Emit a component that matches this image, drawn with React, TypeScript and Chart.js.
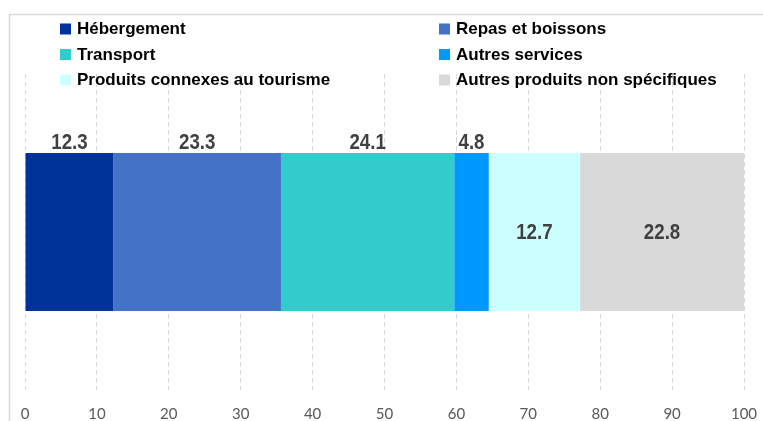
import React, { useEffect, useRef } from "react";
import { Chart, registerables } from "chart.js";

Chart.register(...registerables);

const categories = ["Dépenses"];
const seriesNames = [
  "Hébergement",
  "Repas et boissons",
  "Transport",
  "Autres services",
  "Produits connexes au tourisme",
  "Autres produits non spécifiques",
];
const seriesValues = [12.3, 23.3, 24.1, 4.8, 12.7, 22.8];
const seriesColors = ["#003399", "#4472C4", "#33CCCC", "#0099FF", "#CCFFFF", "#D9D9D9"];
const labelAbove = [true, true, true, true, false, false];
const xTicks = [0, 10, 20, 30, 40, 50, 60, 70, 80, 90, 100];

const framePlugin = {
  id: "frame",
  beforeDraw(chart: any) {
    const ctx = chart.ctx;
    ctx.save();
    ctx.strokeStyle = "#D9D9D9";
    ctx.lineWidth = 1.5;
    ctx.beginPath();
    ctx.moveTo(9.5, chart.height);
    ctx.lineTo(9.5, 14.5);
    ctx.lineTo(chart.width, 14.5);
    ctx.stroke();
    ctx.restore();
  },
};

const legendPlugin = {
  id: "customLegend",
  afterDraw(chart: any) {
    const ctx = chart.ctx;
    const colX = [60, 439];
    const rowY = [29, 54.5, 80];
    ctx.save();
    ctx.font = "bold 17px 'Liberation Sans', Arial, sans-serif";
    ctx.textBaseline = "middle";
    ctx.textAlign = "left";
    chart.data.datasets.forEach((ds: any, i: number) => {
      const x = colX[i % 2];
      const y = rowY[Math.floor(i / 2)];
      ctx.fillStyle = ds.backgroundColor;
      ctx.fillRect(x, y - 5.5, 11, 11);
      ctx.fillStyle = "#000000";
      ctx.fillText(ds.label, x + 17, y + 0.5);
    });
    ctx.restore();
  },
};

const dataLabelPlugin = {
  id: "dataLabels",
  afterDatasetsDraw(chart: any) {
    const ctx = chart.ctx;
    const sx = 0.85;
    chart.data.datasets.forEach((ds: any, i: number) => {
      const meta = chart.getDatasetMeta(i);
      meta.data.forEach((el: any, j: number) => {
        const p = el.getProps(["x", "y", "base", "height"], true);
        const cx = (p.x + p.base) / 2;
        const text = ds.data[j].toFixed(1);
        ctx.save();
        ctx.font = "bold 22px 'Liberation Sans', Arial, sans-serif";
        ctx.fillStyle = "#404040";
        ctx.textAlign = "center";
        let ty: number;
        if (labelAbove[i]) {
          ctx.textBaseline = "alphabetic";
          ty = p.y - p.height / 2 - 4;
        } else {
          ctx.textBaseline = "middle";
          ty = p.y + 1;
        }
        ctx.translate(cx, ty);
        ctx.scale(sx, 1);
        ctx.fillText(text, 0, 0);
        ctx.restore();
      });
    });
  },
};

export default function App() {
  const canvasRef = useRef<HTMLCanvasElement | null>(null);

  useEffect(() => {
    document.body.style.margin = "0";
    const canvas = canvasRef.current;
    if (!canvas) return;
    const chart = new Chart(canvas, {
      type: "bar",
      data: {
        labels: categories,
        datasets: seriesNames.map((name, i) => ({
          label: name,
          data: [seriesValues[i]],
          backgroundColor: seriesColors[i],
          borderWidth: 0,
          barPercentage: 0.5,
          categoryPercentage: 1,
        })),
      },
      options: {
        indexAxis: "y",
        responsive: false,
        animation: false,
        devicePixelRatio: 1,
        layout: { padding: { left: 25, right: 19, top: 74, bottom: 0 } },
        plugins: {
          legend: { display: false },
          tooltip: { enabled: false },
          title: { display: false },
        },
        scales: {
          x: {
            stacked: true,
            min: 0,
            max: 100,
            afterBuildTicks(scale: any) {
              scale.ticks = xTicks.map((v) => ({ value: v }));
            },
            afterFit(scale: any) {
              scale.height = 31;
              scale.paddingLeft = 0;
              scale.paddingRight = 0;
            },
            grid: {
              color: "#D9D9D9",
              lineWidth: 1,
              drawTicks: false,
            },
            border: { display: false, dash: [5, 3] },
            ticks: {
              padding: 15,
              color: "#595959",
              font: { family: "Lato, 'Open Sans', sans-serif", size: 15 },
              maxRotation: 0,
              autoSkip: false,
            },
          },
          y: {
            stacked: true,
            display: false,
          },
        },
      },
      plugins: [framePlugin, dataLabelPlugin, legendPlugin],
    } as any);
    return () => chart.destroy();
  }, []);

  return (
    <div style={{ position: "absolute", left: 0, top: 0, width: 763, height: 421, background: "#fff" }}>
      <canvas ref={canvasRef} width={763} height={421} style={{ width: 763, height: 421, display: "block" }} />
    </div>
  );
}
